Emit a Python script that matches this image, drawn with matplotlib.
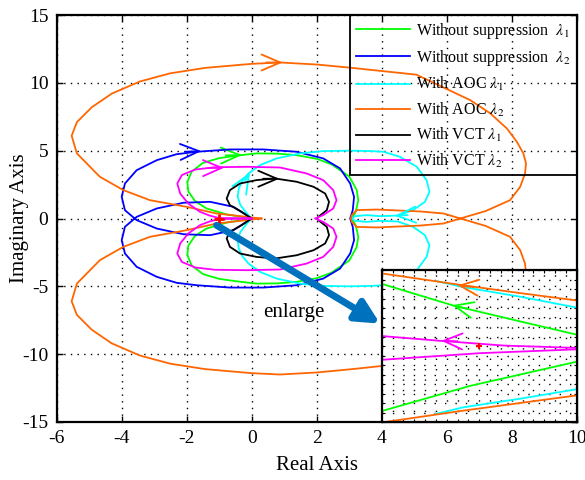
import numpy as np
import matplotlib
matplotlib.use("Agg")
import matplotlib.pyplot as plt

plt.rcParams['font.family'] = ['Liberation Serif', 'DejaVu Serif']
plt.rcParams['mathtext.fontset'] = 'stix'
plt.rcParams['axes.unicode_minus'] = False

# ---------------- data (positive-frequency half of each locus; mirrored about real axis) ----------------
green_re = [0, -0.77, -1.4, -1.75, -1.95, -1.98, -1.85, -1.5, -1.0, -0.5, 0.15, 0.8, 1.38, 2.0, 2.45, 3.0, 3.23, 3.28, 3.2, 3.08]
green_im = [0, 0.3, 0.75, 1.3, 2.0, 2.7, 3.45, 4.1, 4.45, 4.62, 4.8, 4.78, 4.67, 4.4, 4.0, 3.1, 2.1, 1.35, 0.5, 0]

blue_re = [0, -0.56, -1.28, -2.1, -2.92, -3.54, -3.9, -4.0, -3.9, -3.54, -2.92, -2.31, -1.69, -0.67, 0.36, 1.38, 2.2, 2.72, 3.03, 3.15, 3.11, 3.03]
blue_im = [0, -0.86, -1.23, -1.16, -0.74, -0.12, 0.61, 1.6, 2.58, 3.56, 4.3, 4.74, 4.92, 5.09, 5.09, 4.92, 4.43, 3.69, 2.58, 1.6, 0.62, 0]

cyan_re = [0, -0.15, -0.35, -0.43, -0.4, -0.28, -0.1, 0.26, 0.77, 1.49, 2.2, 3.0, 3.64, 4.05, 4.56, 5.08, 5.38, 5.47, 5.33, 4.97, 4.5, 3.95, 3.54, 3.18, 3.08]
cyan_im = [0, 0.37, 1.0, 1.6, 2.2, 2.8, 3.32, 3.94, 4.43, 4.8, 4.97, 5.0, 4.97, 4.92, 4.55, 3.81, 2.83, 1.97, 1.23, 0.62, 0.22, 0.17, 0.25, 0.17, 0]

orange_re = [0.3, -1.08, -2.0, -3.13, -3.95, -4.67, -5.38, -5.54, -5.38, -4.92, -4.31, -3.44, -2.51, -1.44, 0.0, 0.87, 2.0, 3.1, 5.07,
             6.72, 7.34, 7.85, 8.16, 8.36, 8.44, 8.41, 8.26, 7.95, 7.2, 6.42, 5.9, 5.18, 3.85, 3.23, 3.08, 3.05]
orange_im = [0, 0.37, 0.86, 1.35, 2.09, 3.07, 4.8, 6.1, 7.1, 8.2, 9.2, 10.1, 10.7, 11.1, 11.4, 11.5, 11.35, 11.1, 10.6,
             8.73, 7.75, 6.64, 5.65, 4.79, 4.06, 3.32, 2.33, 1.35, 0.55, 0.0, -0.37, -0.52, -0.66, -0.62, -0.25, 0]

black_re = [0, -0.31, -0.67, -0.77, -0.67, -0.36, 0.15, 0.72, 1.38, 1.9, 2.26, 2.38, 2.31, 2.05, 2.0]
black_im = [0, 0.49, 0.98, 1.47, 2.09, 2.58, 2.83, 2.95, 2.71, 2.34, 1.84, 1.23, 0.61, 0.12, 0]

magenta_re = [0, -0.5, -1.0, -1.3, -1.59, -1.95, -2.2, -2.29, -2.15, -1.74, -1.13, -0.15, 0.87, 1.69, 2.2, 2.51, 2.61, 2.51, 2.2, 1.95]
magenta_im = [0, 0.0, 0.03, 0.22, 0.49, 1.1, 1.84, 2.58, 3.2, 3.61, 3.78, 3.81, 3.76, 3.32, 2.83, 2.09, 1.35, 0.74, 0.25, 0]

labels = [r'Without suppression  $\lambda_1$', r'Without suppression  $\lambda_2$',
          r'With AOC $\lambda_1$', r'With AOC $\lambda_2$',
          r'With VCT $\lambda_1$', r'With VCT $\lambda_2$']
colors = ['#00FF00', '#0000FF', '#00FFFF', '#FF6600', '#000000', '#FF00FF']

# direction arrows on the loci: (x_tip, y_tip, dx, dy) in data units
arrow_pts = {
    'green':   (-0.3, 4.68, 0.5, 0.03),
    'blue':    (-1.55, 4.97, 0.5, 0.05),
    'cyan':    (-0.05, 3.4, 0.15, 0.6),
    'orange':  (0.95, 11.5, 0.5, 0.0),
    'black':   (0.85, 2.93, 0.5, 0.0),
    'magenta': (-0.85, 3.74, 0.5, 0.02),
}
cyan_arrow2 = (4.4, 0.2, -0.4, -0.05)

crit_point = (-1.0, 0.0)

# inset (zoom around the critical point)
in_orange_up_x = [-1.18, -1.036, -0.928, -0.82]; in_orange_up_y = [0.153, 0.129, 0.112, 0.096]
in_cyan_up_x = [-1.08, -1.029, -0.925, -0.82];   in_cyan_up_y = [0.137, 0.124, 0.104, 0.081]
in_green_up_x = [-1.18, -1.047, -0.925, -0.82];  in_green_up_y = [0.131, 0.085, 0.052, 0.024]
in_mag_up_x = [-1.18, -1.072, -0.955, -0.82];    in_mag_up_y = [0.021, 0.011, 0.001, -0.004]
in_mag_lo_x = [-1.18, -0.998, -0.82];            in_mag_lo_y = [-0.029, -0.015, -0.007]
in_green_lo_x = [-1.18, -1.017, -0.82];          in_green_lo_y = [-0.137, -0.084, -0.033]
in_cyan_lo_x = [-1.08, -1.029, -0.925, -0.82];   in_cyan_lo_y = [-0.143, -0.129, -0.111, -0.091]
in_orange_lo_x = [-1.18, -1.029, -0.82];         in_orange_lo_y = [-0.161, -0.136, -0.104]
in_arrows = [(-1.04, 0.128, -0.03, 0.004, '#FF6600'),
             (-1.05, 0.086, -0.03, 0.008, '#00FF00'),
             (-1.07, 0.011, -0.03, 0.001, '#FF00FF')]

# ---------------- figure ----------------
fig = plt.figure(figsize=(5.85, 4.8), dpi=100)
ax = fig.add_axes([56.7/585, 1-422/480, 520/585, 407/480])

def closed(re, im):
    re = np.asarray(re, float); im = np.asarray(im, float)
    return np.concatenate([re, re[::-1][1:]]), np.concatenate([im, -im[::-1][1:]])

series = [(green_re, green_im), (blue_re, blue_im), (cyan_re, cyan_im),
          (orange_re, orange_im), (black_re, black_im), (magenta_re, magenta_im)]
names = ['green', 'blue', 'cyan', 'orange', 'black', 'magenta']
lw = 1.3
head = '->,head_length=0.75,head_width=0.32'
for (re, im), c, lab, nm in zip(series, colors, labels, names):
    x, y = closed(re, im)
    ax.plot(x, y, color=c, lw=lw, label=lab, zorder=3)
    xt, yt, dx, dy = arrow_pts[nm]
    ax.annotate('', xy=(xt, yt), xytext=(xt - dx, yt - dy),
                arrowprops=dict(arrowstyle=head, color=c, lw=lw,
                                shrinkA=0, shrinkB=0, mutation_scale=18), zorder=3)
xt, yt, dx, dy = cyan_arrow2
ax.annotate('', xy=(xt, yt), xytext=(xt - dx, yt - dy),
            arrowprops=dict(arrowstyle=head, color='#00FFFF', lw=lw,
                            shrinkA=0, shrinkB=0, mutation_scale=18), zorder=3)

ax.plot(*crit_point, marker='+', color='red', ms=7, mew=2, zorder=4)

ax.set_xlim(-6, 10)
ax.set_ylim(-15, 15)
ax.set_xticks(np.arange(-6, 11, 2))
ax.set_yticks(np.arange(-15, 16, 5))
ax.grid(True, color='black', linestyle=(0, (1, 3.8)), lw=1.0)
ax.tick_params(direction='in', length=4, width=1, top=True, right=True, labelsize=14, pad=6)
for s in ax.spines.values():
    s.set_linewidth(1.6)
ax.set_xlabel('Real Axis', fontsize=15, labelpad=6)
ax.set_ylabel('Imaginary Axis', fontsize=15)
ax.yaxis.set_label_coords(-0.054, 0.5)

leg = ax.legend(loc='upper right', bbox_to_anchor=(1, 1), borderaxespad=0, fontsize=11.5,
                handlelength=3.4, handletextpad=0.4, labelspacing=0.46, borderpad=0.35,
                fancybox=False)
frame = leg.get_frame()
frame.set_alpha(None)
frame.set_facecolor('none')
frame.set_edgecolor('black')
frame.set_linewidth(1.3)

# enlarge arrow + text
ax.annotate('', xy=(3.95, -7.75), xytext=(-1.08, -0.5),
            arrowprops=dict(arrowstyle='-|>,head_length=0.7,head_width=0.35', color='#0072BD',
                            lw=5, shrinkA=0, shrinkB=0, mutation_scale=20), zorder=5)
ax.text(1.3, -6.9, 'enlarge', fontsize=15, ha='center', va='center')

# inset
axin = ax.inset_axes([4, -15, 6, 11.2], transform=ax.transData, zorder=6)
axin.set_facecolor('white')
inset_lines = [(in_cyan_up_x, in_cyan_up_y, '#00FFFF'), (in_cyan_lo_x, in_cyan_lo_y, '#00FFFF'),
               (in_orange_up_x, in_orange_up_y, '#FF6600'), (in_orange_lo_x, in_orange_lo_y, '#FF6600'),
               (in_green_up_x, in_green_up_y, '#00FF00'), (in_green_lo_x, in_green_lo_y, '#00FF00'),
               (in_mag_up_x, in_mag_up_y, '#FF00FF'), (in_mag_lo_x, in_mag_lo_y, '#FF00FF')]
for xx, yy, c in inset_lines:
    axin.plot(xx, yy, color=c, lw=lw)
for xt, yt, dx, dy, c in in_arrows:
    axin.annotate('', xy=(xt, yt), xytext=(xt - dx, yt - dy),
                  arrowprops=dict(arrowstyle=head, color=c, lw=lw,
                                  shrinkA=0, shrinkB=0, mutation_scale=18))
axin.plot(*crit_point, marker='+', color='red', ms=5, mew=1.5)
axin.set_xlim(-1.18, -0.82)
axin.set_ylim(-0.16, 0.16)
axin.set_xticks(np.linspace(-1.18, -0.82, 19))
axin.set_yticks(np.linspace(-0.16, 0.16, 17))
axin.grid(True, color='black', linestyle=(0, (1, 6.5)), lw=1.0)
axin.tick_params(direction='in', length=2, labelbottom=False, labelleft=False, top=True, right=True)
for s in axin.spines.values():
    s.set_linewidth(1.6)

fig.savefig('out.png', dpi=100)
